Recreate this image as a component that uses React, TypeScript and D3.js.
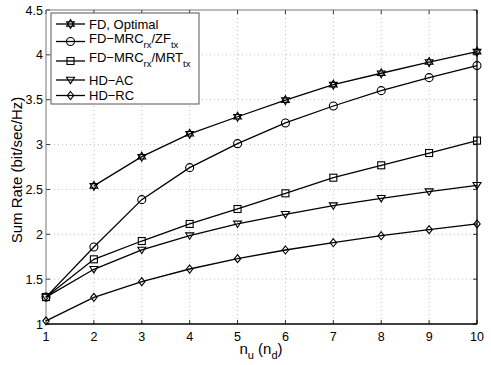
import React from "react";
import * as d3 from "d3";

const xValues = [1, 2, 3, 4, 5, 6, 7, 8, 9, 10];
const fdOptimal: (number | null)[] = [null, 2.54, 2.865, 3.12, 3.31, 3.495, 3.668, 3.795, 3.92, 4.036];
const fdZF = [1.3, 1.858, 2.386, 2.743, 3.01, 3.241, 3.43, 3.601, 3.746, 3.88];
const fdMRT = [1.3, 1.721, 1.925, 2.115, 2.282, 2.457, 2.631, 2.769, 2.906, 3.044];
const hdAC = [1.3, 1.61, 1.825, 1.984, 2.115, 2.223, 2.319, 2.401, 2.475, 2.546];
const hdRC = [1.035, 1.297, 1.472, 1.613, 1.728, 1.825, 1.906, 1.984, 2.051, 2.115];
const yTicks = [1, 1.5, 2, 2.5, 3, 3.5, 4, 4.5];
const yTickLabels = ["1", "1.5", "2", "2.5", "3", "3.5", "4", "4.5"];

type Marker = "hexagram" | "circle" | "square" | "triDown" | "diamond";
const series: { name: string; values: (number | null)[]; marker: Marker }[] = [
  { name: "FD, Optimal", values: fdOptimal, marker: "hexagram" },
  { name: "zf", values: fdZF, marker: "circle" },
  { name: "mrt", values: fdMRT, marker: "square" },
  { name: "HD\u2212AC", values: hdAC, marker: "triDown" },
  { name: "HD\u2212RC", values: hdRC, marker: "diamond" },
];

const L = 46, R = 477, T = 10, B = 324;
const font = "'Liberation Sans', Arial, Helvetica, sans-serif";

function MarkerShape({ type, x, y }: { type: Marker; x: number; y: number }) {
  const common = { fill: "none", stroke: "#000", strokeWidth: 1.1 };
  if (type === "circle") return <circle cx={x} cy={y} r={4} {...common} />;
  if (type === "square") return <rect x={x - 3.5} y={y - 3.5} width={7} height={7} {...common} />;
  if (type === "triDown") {
    const s = 4;
    return <path d={`M${x - s},${y - s * 0.7} L${x + s},${y - s * 0.7} L${x},${y + s * 0.9} Z`} {...common} />;
  }
  if (type === "diamond") {
    const s = 4;
    return <path d={`M${x},${y - s} L${x + s * 0.8},${y} L${x},${y + s} L${x - s * 0.8},${y} Z`} {...common} />;
  }
  const r = 4.5;
  const tri = (off: number) =>
    [0, 1, 2]
      .map((i) => {
        const a = off + (i * 2 * Math.PI) / 3;
        return `${x + r * Math.sin(a)},${y - r * Math.cos(a)}`;
      })
      .join(" ");
  return (
    <g>
      <polygon points={tri(0)} {...common} />
      <polygon points={tri(Math.PI)} {...common} />
    </g>
  );
}

export default function App() {
  const x = d3.scaleLinear().domain([1, 10]).range([L, R]);
  const y = d3.scaleLinear().domain([1, 4.5]).range([B, T]);
  const line = d3
    .line<[number, number | null]>()
    .defined((d) => d[1] !== null)
    .x((d) => x(d[0]))
    .y((d) => y(d[1] as number));

  const legendRows = [24, 41.5, 61, 80, 95.5];
  const lf = 13;

  return (
    <svg width={491} height={365} style={{ position: "absolute", left: 0, top: 0, background: "#fff" }}>
      <rect x={0} y={0} width={491} height={365} fill="#fff" />
      {xValues.slice(1, -1).map((v) => (
        <line key={"gx" + v} x1={x(v)} x2={x(v)} y1={T} y2={B} stroke="#b0b0b0" strokeWidth={0.8} strokeDasharray="1,3" />
      ))}
      {yTicks.slice(1, -1).map((v) => (
        <line key={"gy" + v} x1={L} x2={R} y1={y(v)} y2={y(v)} stroke="#b0b0b0" strokeWidth={0.8} strokeDasharray="1,3" />
      ))}
      {xValues.map((v) => (
        <g key={"tx" + v}>
          <line x1={x(v)} x2={x(v)} y1={B} y2={B - 4} stroke="#000" strokeWidth={0.8} />
          <line x1={x(v)} x2={x(v)} y1={T} y2={T + 4} stroke="#000" strokeWidth={0.8} />
          <text x={x(v)} y={341} textAnchor="middle" fontFamily={font} fontSize={12.5} fill="#000">
            {v}
          </text>
        </g>
      ))}
      {yTicks.map((v, i) => (
        <g key={"ty" + v}>
          <line x1={L} x2={L + 4} y1={y(v)} y2={y(v)} stroke="#000" strokeWidth={0.8} />
          <line x1={R} x2={R - 4} y1={y(v)} y2={y(v)} stroke="#000" strokeWidth={0.8} />
          <text x={L - 3} y={y(v) + 4.5} textAnchor="end" fontFamily={font} fontSize={12.5} fill="#000">
            {yTickLabels[i]}
          </text>
        </g>
      ))}
      <line x1={L} x2={R} y1={T} y2={T} stroke="#777" strokeWidth={1} />
      <line x1={L} x2={L} y1={T} y2={B} stroke="#777" strokeWidth={1} />
      <line x1={L} x2={R} y1={B} y2={B} stroke="#000" strokeWidth={1.3} />
      <line x1={R} x2={R} y1={T} y2={B} stroke="#000" strokeWidth={1.3} />
      {series.map((s) => {
        const pts: [number, number | null][] = xValues.map((v, i) => [v, s.values[i]]);
        return (
          <g key={s.name}>
            <path d={line(pts) || ""} fill="none" stroke="#000" strokeWidth={1.3} />
            {pts
              .filter((p) => p[1] !== null)
              .map((p) => (
                <MarkerShape key={p[0]} type={s.marker} x={x(p[0])} y={y(p[1] as number)} />
              ))}
          </g>
        );
      })}
      <rect x={51} y={13} width={148} height={91} fill="#fff" stroke="#555" strokeWidth={1} />
      {series.map((s, i) => (
        <g key={"lg" + i}>
          <line x1={56} x2={85} y1={legendRows[i]} y2={legendRows[i]} stroke="#000" strokeWidth={1.3} />
          <MarkerShape type={s.marker} x={70.5} y={legendRows[i]} />
        </g>
      ))}
      <text fontFamily={font} fontSize={lf} fill="#000">
        <tspan x={89} y={legendRows[0] + 4.7}>FD, Optimal</tspan>
      </text>
      <text fontFamily={font} fontSize={lf} fill="#000">
        <tspan x={89} y={legendRows[1] + 1}>FD−MRC</tspan>
        <tspan fontSize={9.5} dy={5}>rx</tspan>
        <tspan dy={-5}>/ZF</tspan>
        <tspan fontSize={9.5} dy={5}>tx</tspan>
      </text>
      <text fontFamily={font} fontSize={lf} fill="#000">
        <tspan x={89} y={legendRows[2] + 1}>FD−MRC</tspan>
        <tspan fontSize={9.5} dy={5}>rx</tspan>
        <tspan dy={-5}>/MRT</tspan>
        <tspan fontSize={9.5} dy={5}>tx</tspan>
      </text>
      <text fontFamily={font} fontSize={lf} fill="#000">
        <tspan x={89} y={legendRows[3] + 4.7}>HD−AC</tspan>
      </text>
      <text fontFamily={font} fontSize={lf} fill="#000">
        <tspan x={89} y={legendRows[4] + 4.7}>HD−RC</tspan>
      </text>
      <text x={261} y={354} fontFamily={font} fontSize={15} fill="#000" textAnchor="middle">
        <tspan>n</tspan>
        <tspan fontSize={11} dy={5}>u</tspan>
        <tspan dy={-5}> (n</tspan>
        <tspan fontSize={11} dy={5}>d</tspan>
        <tspan dy={-5}>)</tspan>
      </text>
      <text
        transform={`translate(22, 170) rotate(-90)`}
        textAnchor="middle"
        fontFamily={font}
        fontSize={15}
        fill="#000"
      >
        Sum Rate (bit/sec/Hz)
      </text>
    </svg>
  );
}
